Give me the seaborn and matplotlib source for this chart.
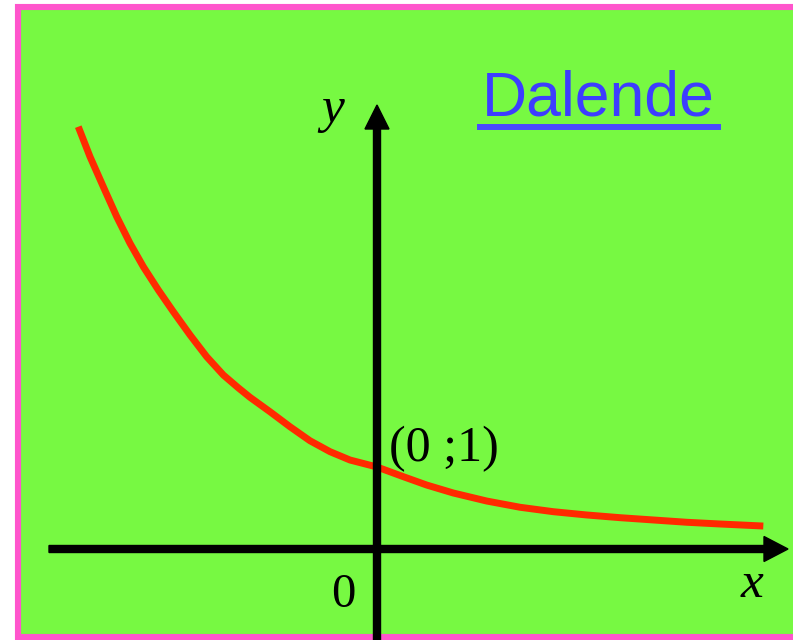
import matplotlib
matplotlib.use("Agg")
import matplotlib.pyplot as plt
import seaborn as sns
import pandas as pd
from matplotlib.patches import Rectangle
from matplotlib.lines import Line2D

# curve (units: origin at axes crossing, (0;1) on the curve)
curve_x = [-3.643, -3.500, -3.338, -3.174, -3.012, -2.850, -2.667, -2.484, -2.280,
           -2.077, -1.874, -1.691, -1.549, -1.305, -1.061, -0.817, -0.573, -0.329,
           0.0, 0.321, 0.606, 0.930, 1.338, 1.744, 2.150, 2.557, 2.963, 3.370,
           3.777, 4.183, 4.711]
curve_y = [5.150, 4.784, 4.418, 4.052, 3.728, 3.443, 3.159, 2.894, 2.610,
           2.345, 2.122, 1.965, 1.850, 1.674, 1.491, 1.320, 1.187, 1.085,
           1.0, 0.882, 0.780, 0.683, 0.585, 0.509, 0.455, 0.415, 0.382, 0.354,
           0.326, 0.305, 0.280]

title_text = "Dalende"
point_label = "(0 ;1)"
origin_label = "0"

W, H = 793, 640
GREEN = "#77f942"
PINK = "#ff55cc"
RED = "#ff2a00"
BLUE = "#3d3dff"


def px(x, y):
    return x / W, 1 - y / H


fig = plt.figure(figsize=(W / 100, H / 100), dpi=100)

# green panel with pink frame
x0, y0 = px(18, 636.5)
x1, y1 = px(800, 7)
fig.patches.append(Rectangle((x0, y0), x1 - x0, y1 - y0, transform=fig.transFigure,
                             facecolor=GREEN, edgecolor=PINK, linewidth=4.4, zorder=-1))

ax = fig.add_axes([0, 0, 1, 1])
ax.set_facecolor("none")
unit = 82.0
ax.set_xlim(-377 / unit, (W - 377) / unit)
ax.set_ylim((549 - H) / unit, 549 / unit)
ax.axis("off")

df = pd.DataFrame({"x": curve_x, "y": curve_y})
sns.lineplot(data=df, x="x", y="y", sort=False, color=RED, linewidth=5,
             ax=ax, zorder=2, solid_joinstyle="round", solid_capstyle="butt")

# coordinate axes with arrow heads
lw = 7 / unit
ax.arrow(-328 / unit, 0, (788 - 49) / unit, 0, width=lw, head_width=25 / unit,
         head_length=24 / unit, length_includes_head=True, color="black", zorder=3)
ax.arrow(0, (549 - 645) / unit, 0, (645 - 105) / unit, width=lw, head_width=24 / unit,
         head_length=24 / unit, length_includes_head=True, color="black", zorder=3)

serif = ["Liberation Serif", "DejaVu Serif"]
fig.text(*px(333, 122), "y", family=serif, style="italic", fontsize=37,
         ha="center", va="baseline")
fig.text(*px(752, 597), "x", family=serif, style="italic", fontsize=37,
         ha="center", va="baseline")
fig.text(*px(343, 607), origin_label, family=serif, fontsize=35,
         ha="center", va="baseline")
fig.text(*px(389, 461), point_label, family=serif, fontsize=36,
         ha="left", va="baseline")

fig.text(*px(482, 115), title_text, family=["Liberation Sans", "DejaVu Sans"],
         fontsize=45, color=BLUE, ha="left", va="baseline")
ux0, uy = px(480, 127)
ux1, _ = px(718, 127)
fig.lines.append(Line2D([ux0, ux1], [uy, uy], transform=fig.transFigure,
                        color="#4a4aff", linewidth=4.3))

fig.savefig("out.png", dpi=100)
